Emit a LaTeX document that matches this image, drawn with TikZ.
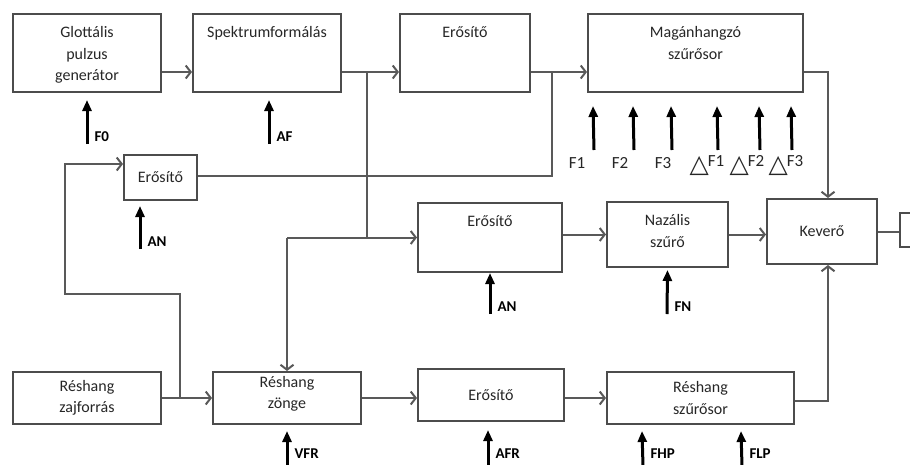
\documentclass[tikz,border=0pt]{standalone}
\usepackage{fontspec}
\setmainfont{Carlito}
\newfontfamily\symfont{DejaVu Sans}
\usetikzlibrary{arrows.meta}
\tikzset{%
  >={Straight Barb[length=5pt,width=13pt]},
  % Specifications for style of nodes:
        blk/.style = {rectangle, draw=black!70, line width=2pt,
                      align=center, text=black!85,
                      font=\fontsize{16}{21.5}\selectfont},
     topblk/.style = {blk, label={[anchor=north, yshift=-10pt, align=center,
                      text=black!85, font=\fontsize{16}{21.5}\selectfont]north:{#1}}},
       conn/.style = {draw=black!65, line width=2pt},
      param/.style = {-{Triangle[length=11pt,width=9pt]}, line width=3pt},
     plabel/.style = {font=\fontsize{15}{18}\selectfont\bfseries, inner sep=1pt},
     flabel/.style = {font=\fontsize{17}{18}\selectfont, text=black!85, inner sep=0pt},
}
\newcommand{\dlt}{\raisebox{-6pt}{\symfont\fontsize{25}{25}\selectfont △}\kern-1pt}

\begin{document}
\begin{tikzpicture}[x=1pt, y=-1pt]
  \useasboundingbox (0,0) rectangle (910,464);
  % Blocks (position, size)
  \node (glot)  [topblk={Glottális\\pulzus\\generátor}, minimum width=148pt, minimum height=78pt] at (87,53) {};
  \node (spek)  [topblk={Spektrumformálás}, minimum width=148pt, minimum height=78pt] at (267,53) {};
  \node (erA)   [topblk={Erősítő}, minimum width=130pt, minimum height=78pt] at (465,53) {};
  \node (magan) [topblk={Magánhangzó\\szűrősor}, minimum width=215pt, minimum height=78pt] at (695.5,53) {};
  \node (erB)   [blk, minimum width=73pt, minimum height=45pt] at (160.5,177.5) {Erősítő};
  \node (erC)   [topblk={Erősítő}, minimum width=144pt, minimum height=69pt] at (490,237.5) {};
  \node (naz)   [topblk={Nazális\\szűrő}, minimum width=121pt, minimum height=65pt] at (667.5,234.5) {};
  \node (kever) [blk, minimum width=110pt, minimum height=65pt] at (822,231.5) {Keverő};
  \node (spk)   [blk, minimum width=20pt, minimum height=34pt] at (910,230) {};
  \node (zaj)   [blk, minimum width=148pt, minimum height=52pt] at (87,398) {Réshang\\zajforrás};
  \node (zonge) [blk, minimum width=148pt, minimum height=52pt] at (287,398) {Réshang\\zönge\\[-10pt]};
  \node (erD)   [blk, minimum width=146pt, minimum height=52pt] at (491,395) {Erősítő};
  \node (resz)  [blk, minimum width=187pt, minimum height=52pt] at (700.5,398) {Réshang\\szűrősor};
  % Branch points
  \coordinate (jA) at (367,72);
  \coordinate (jB) at (287,237.5);
  \coordinate (jC) at (552,72);
  \coordinate (jD) at (180,398);
  % Connections
  \draw[conn,->] (glot.east |- jA) -- (spek.west |- jA);
  \draw[conn,->] (spek.east |- jA) -- (erA.west |- jA);
  \draw[conn,->] (erA.east |- jC) -- (magan.west |- jC);
  \draw[conn]    (jA) -- (jA |- jB);
  \draw[conn,->] (jB) -- (erC.west);
  \draw[conn,->] (jB) -- (zonge.north);
  \draw[conn]    (erB.east |- 0,176) -| (jC);
  \draw[conn,->] (jD) |- (65,294) |- (erB.west |- 0,164);
  \draw[conn,->] (zaj.east) -- (zonge.west);
  \draw[conn,->] (zonge.east) -- (erD.west |- zonge.east);
  \draw[conn,->] (erD.east |- zonge.east) -- (resz.west);
  \draw[conn,->] (erC.east |- naz.west) -- (naz.west);
  \draw[conn,->] (naz.east) -- (kever.west |- naz.east);
  \draw[conn,->] (magan.east |- jC) -| ([xshift=6pt]kever.north);
  \draw[conn,->] (resz.east |- 0,401) -| ([xshift=6pt]kever.south);
  \draw[conn]    (kever.east) -- (spk.west |- kever.east);
  % Control parameters
  \draw[param] (87,144) node[plabel, anchor=south west, xshift=5pt] {F0}
     -- ([yshift=-7pt]glot.south);
  \draw[param] (269,144) node[plabel, anchor=south west, xshift=5pt] {AF}
     -- ([shift={(2pt,-7pt)}]spek.south);
  \draw[param] (140,249) node[plabel, anchor=south west, xshift=5pt] {AN}
     -- ([shift={(-20.5pt,-5pt)}]erB.south);
  \draw[param] (490,314) node[plabel, anchor=south west, xshift=5pt] {AN}
     -- (erC.south);
  \draw[param] (667,314) node[plabel, anchor=south west, xshift=5pt] {FN}
     -- ([yshift=-2pt]naz.south);
  \draw[param] (287,466) node[plabel, anchor=south west, xshift=5pt, yshift=5pt] {VFR}
     -- ([yshift=-6pt]zonge.south);
  \draw[param] (488,466) node[plabel, anchor=south west, xshift=5pt, yshift=5pt] {AFR}
     -- ([shift={(-3pt,-8pt)}]erD.south);
  \draw[param] (643,466) node[plabel, anchor=south west, xshift=5pt, yshift=5pt] {FHP}
     -- ([shift={(36pt,-6pt)}]resz.south west);
  \draw[param] (742,466) node[plabel, anchor=south west, xshift=5pt, yshift=5pt] {FLP}
     -- ([shift={(135pt,-6pt)}]resz.south west);
  \draw[param] (594,150) -- ([shift={(6pt,-13pt)}]magan.south west);
  \draw[param] (634,150) -- ([shift={(46pt,-13pt)}]magan.south west);
  \draw[param] (672,150) -- ([shift={(84pt,-13pt)}]magan.south west);
  \draw[param] (718,150) -- ([shift={(130pt,-13pt)}]magan.south west);
  \draw[param] (760,150) -- ([shift={(172pt,-13pt)}]magan.south west);
  \draw[param] (792,150) -- ([shift={(204pt,-13pt)}]magan.south west);
  \node (lF1) [flabel] at (577,163) {F1};
  \node (lF2) [flabel] at (620,163) {F2};
  \node (lF3) [flabel] at (663,163) {F3};
  \node (lD1) [flabel] at (707,166) {\dlt F1};
  \node (lD2) [flabel] at (747,166) {\dlt F2};
  \node (lD3) [flabel] at (786,166) {\dlt F3};
\end{tikzpicture}
\end{document}
